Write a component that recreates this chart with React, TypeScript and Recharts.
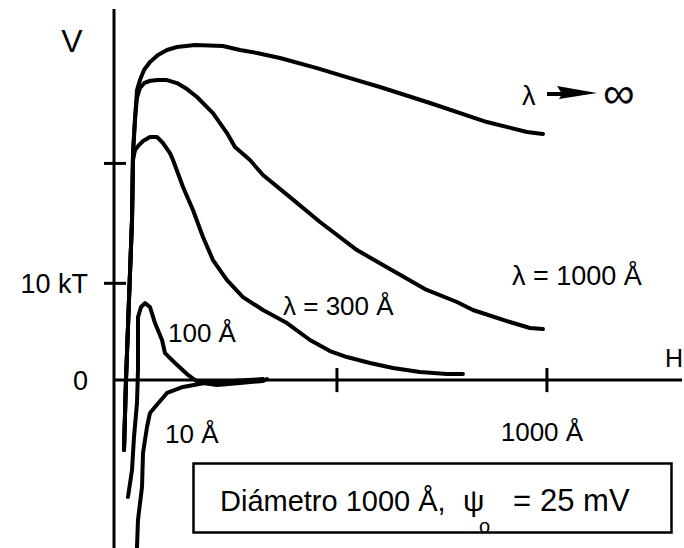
import { LineChart, Line, XAxis, YAxis, ReferenceLine } from 'recharts';

// H in Å, V in kT
const LAMBDA_INF = [
  { h: 23.1, v: -7.24 }, { h: 27.7, v: 0 }, { h: 34.6, v: 8.27 }, { h: 41.6, v: 16.55 },
  { h: 43.9, v: 23.47 }, { h: 48.5, v: 26.89 }, { h: 53.1, v: 29.99 }, { h: 60.0, v: 31.02 },
  { h: 69.3, v: 32.06 }, { h: 83.1, v: 32.89 }, { h: 101.6, v: 33.61 }, { h: 122.4, v: 34.13 },
  { h: 145.5, v: 34.44 }, { h: 187.1, v: 34.64 }, { h: 251.7, v: 34.54 }, { h: 291.0, v: 34.13 },
  { h: 330.3, v: 33.82 }, { h: 383.4, v: 33.3 }, { h: 468.8, v: 32.26 }, { h: 545.0, v: 31.23 },
  { h: 614.3, v: 30.3 }, { h: 729.8, v: 28.65 }, { h: 861.4, v: 26.68 }, { h: 953.8, v: 25.65 },
  { h: 990.8, v: 25.44 },
];

const LAMBDA_1000 = [
  { h: 23.1, v: -7.24 }, { h: 27.7, v: 0 }, { h: 34.6, v: 8.27 }, { h: 41.6, v: 16.55 },
  { h: 43.9, v: 23.47 }, { h: 48.5, v: 27.09 }, { h: 53.1, v: 29.2 }, { h: 60.0, v: 30.2 },
  { h: 70.0, v: 30.72 }, { h: 84.0, v: 30.95 }, { h: 101.6, v: 31.02 }, { h: 122.4, v: 31.02 },
  { h: 145.5, v: 30.71 }, { h: 168.6, v: 30.09 }, { h: 191.7, v: 29.27 }, { h: 228.6, v: 27.61 },
  { h: 261.0, v: 25.54 }, { h: 279.4, v: 24.1 }, { h: 314.1, v: 22.75 }, { h: 344.1, v: 21.2 },
  { h: 406.5, v: 18.92 }, { h: 475.8, v: 16.34 }, { h: 561.2, v: 13.44 }, { h: 637.4, v: 11.48 },
  { h: 718.2, v: 9.41 }, { h: 792.1, v: 8.07 }, { h: 829.1, v: 7.24 }, { h: 914.5, v: 6.0 },
  { h: 960.7, v: 5.38 }, { h: 990.8, v: 5.27 },
];

const LAMBDA_300 = [
  { h: 23.1, v: -7.24 }, { h: 27.7, v: 0 }, { h: 34.6, v: 8.27 }, { h: 41.6, v: 16.55 },
  { h: 43.9, v: 22.75 }, { h: 48.5, v: 23.78 }, { h: 57.7, v: 24.3 }, { h: 67.0, v: 24.72 },
  { h: 83.1, v: 25.13 }, { h: 99.3, v: 25.13 }, { h: 113.2, v: 24.51 }, { h: 129.3, v: 23.47 },
  { h: 136.3, v: 22.75 }, { h: 159.4, v: 19.96 }, { h: 182.4, v: 17.58 }, { h: 205.5, v: 14.79 },
  { h: 228.6, v: 12.41 }, { h: 261.0, v: 10.34 }, { h: 297.9, v: 8.58 }, { h: 344.1, v: 7.24 },
  { h: 399.5, v: 5.89 }, { h: 452.7, v: 4.14 }, { h: 498.8, v: 3.0 }, { h: 538.1, v: 2.38 },
  { h: 591.2, v: 1.76 }, { h: 644.3, v: 1.24 }, { h: 706.7, v: 0.83 }, { h: 769.1, v: 0.62 },
  { h: 806.0, v: 0.62 },
];

const LAMBDA_100 = [
  { h: 32.3, v: -12.1 }, { h: 41.6, v: -9.31 }, { h: 46.2, v: -5.89 }, { h: 53.1, v: -2.38 },
  { h: 55.4, v: 1.03 }, { h: 55.4, v: 4.14 }, { h: 55.4, v: 6.51 }, { h: 62.4, v: 7.55 },
  { h: 71.6, v: 7.96 }, { h: 83.1, v: 7.55 }, { h: 94.7, v: 5.89 }, { h: 110.9, v: 4.14 },
  { h: 117.8, v: 2.79 }, { h: 140.9, v: 1.76 }, { h: 168.6, v: 0.62 }, { h: 187.1, v: 0 },
  { h: 205.5, v: -0.31 }, { h: 237.9, v: -0.52 }, { h: 291.0, v: -0.31 }, { h: 344.1, v: -0.1 },
  { h: 353.3, v: 0.1 },
];

const LAMBDA_10 = [
  { h: 53.1, v: -17.27 }, { h: 55.4, v: -14.48 }, { h: 64.7, v: -11.07 }, { h: 67.0, v: -7.55 },
  { h: 76.2, v: -4.86 }, { h: 83.1, v: -3.41 }, { h: 94.7, v: -2.79 }, { h: 122.4, v: -1.34 },
  { h: 159.4, v: -0.72 }, { h: 221.7, v: -0.21 }, { h: 274.8, v: -0.1 }, { h: 344.1, v: 0.1 },
];

const SERIES = [LAMBDA_INF, LAMBDA_1000, LAMBDA_300, LAMBDA_100, LAMBDA_10];

const X_TICKS = [515, 1000];
const X_TICK_LABELS: Record<number, string> = { 1000: '1000 Å' };
const Y_TICKS = [0, 10, 22.4];
const Y_TICK_LABELS: Record<number, string> = { 0: '0', 10: '10 kT' };

const FONT = '"Liberation Sans", Arial, Helvetica, sans-serif';

function YTick({ x, y, payload }: { x: number; y: number; payload: { value: number } }) {
  const label = Y_TICK_LABELS[payload.value];
  return (
    <g>
      {payload.value !== 0 && <line x1={x - 10} x2={x + 12} y1={y} y2={y} stroke="#000" strokeWidth={3} />}
      {label && (
        <text x={x - 26} y={y + 10} textAnchor="end" fontSize={27} fontFamily={FONT} fill="#000"
          style={{ whiteSpace: 'pre' }}>{label}</text>
      )}
    </g>
  );
}

export default function App() {
  return (
    <div style={{ position: 'absolute', left: 0, top: 0, width: 684, height: 548, background: '#fff' }}>
      <LineChart width={684} height={548} margin={{ top: 9, right: 2, bottom: 0, left: 0 }}>
        <XAxis type="number" dataKey="h" domain={[0, 1312]} allowDataOverflow hide />
        <YAxis
          type="number"
          domain={[-17.37, 38.37]}
          allowDataOverflow
          width={114}
          ticks={Y_TICKS}
          tick={YTick as any}
          tickLine={false}
          tickSize={0}
          tickMargin={0}
          axisLine={{ stroke: '#000', strokeWidth: 3 }}
        />
        <ReferenceLine y={0} stroke="#000" strokeWidth={3} />
        {X_TICKS.map((t) => (
          <ReferenceLine
            key={t}
            segment={[{ x: t, y: -1.25 }, { x: t, y: 1.25 }]}
            stroke="#000"
            strokeWidth={3}
            label={X_TICK_LABELS[t] ? {
              value: X_TICK_LABELS[t], position: 'bottom', offset: 30,
              fontSize: 26, fontFamily: FONT, fill: '#000', dx: -5,
            } : undefined}
          />
        ))}
        {SERIES.map((d, i) => (
          <Line
            key={i}
            data={d}
            dataKey="v"
            type="linear"
            stroke="#000"
            strokeWidth={4}
            strokeLinejoin="round"
            strokeLinecap="round"
            dot={false}
            activeDot={false}
            isAnimationActive={false}
          />
        ))}
      </LineChart>

      <svg width={684} height={548} style={{ position: 'absolute', left: 0, top: 0, pointerEvents: 'none' }}
        fontFamily={FONT} fill="#000">
        <text x={72} y={52} fontSize={32} textAnchor="middle">V</text>
        <text x={665} y={367} fontSize={25}>H</text>

        <text x={522} y={105} fontSize={27}>λ</text>
        <line x1={547} x2={562} y1={94} y2={94} stroke="#000" strokeWidth={4} />
        <polygon points="597,93 557,86 562,94 559,99" fill="#000" />
        <text x={603} y={108} fontSize={44}>∞</text>

        <text x={512} y={285} fontSize={27}>λ = 1000 Å</text>
        <text x={283} y={315} fontSize={26}>λ = 300 Å</text>
        <text x={168} y={342} fontSize={26}>100 Å</text>
        <text x={165} y={443} fontSize={26}>10 Å</text>

        <rect x={193.5} y={463.5} width={478} height={69} fill="none" stroke="#000" strokeWidth={2.5} />
        <text x={220} y={511} fontSize={29}>Diámetro 1000 Å,</text>
        <text x={463} y={511} fontSize={30}>ψ</text>
        <text x={479} y={533} fontSize={20}>o</text>
        <text x={513} y={511} fontSize={31}>=</text>
        <text x={540} y={511} fontSize={31}>25 mV</text>
      </svg>
    </div>
  );
}
